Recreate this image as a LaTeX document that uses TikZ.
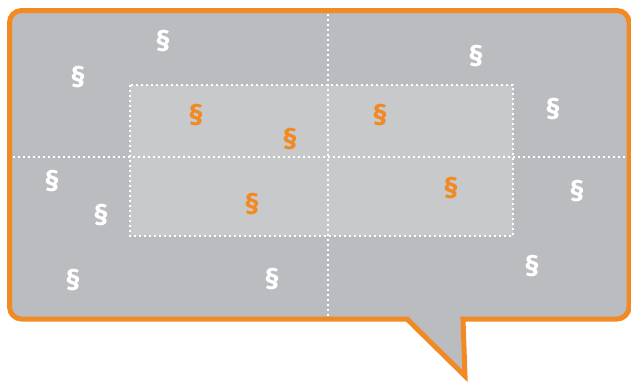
\documentclass[tikz,border=0pt]{standalone}
\usepackage{fontspec}
\setmainfont{Fira Sans}
\begin{document}
\begin{tikzpicture}[x=1pt,y=-1pt,
  sym/.style={font=\bfseries\fontsize{28}{28}\selectfont,inner sep=0pt},
  wsym/.style={sym,text=white},
  osym/.style={sym,text=borange},
  dotline/.style={white,line width=2pt,dash pattern=on 2pt off 3pt}]
\definecolor{borange}{HTML}{F28A24}
\definecolor{bgray}{HTML}{BBBCBF}
\definecolor{igray}{HTML}{C8C9CB}
\useasboundingbox (0,0) rectangle (631,381);
\draw[borange,fill=bgray,line width=5pt,line join=miter,rounded corners=12pt]
  (9.5,160) -- (9.5,10.5) -- (629,10.5) -- (629,319)
  [sharp corners] -- (463,319) -- (465,376) -- (407,319)
  [rounded corners=12pt] -- (9.5,319) -- cycle;
\fill[igray] (130,85) rectangle (513,236);
\draw[dotline] (130,85) rectangle (513,236);
\draw[dotline] (328,14) -- (328,316);
\draw[dotline] (13,157) -- (626,157);
\node[wsym] (w1) at (163,41) {§};
\node[wsym] (w2) at (78,77) {§};
\node[wsym] (w3) at (476,56) {§};
\node[wsym] (w4) at (553,109) {§};
\node[wsym] (w5) at (52,181) {§};
\node[wsym] (w6) at (101,215) {§};
\node[wsym] (w7) at (73,280) {§};
\node[wsym] (w8) at (272,279) {§};
\node[wsym] (w9) at (577,191) {§};
\node[wsym] (w10) at (532,266) {§};
\node[osym] (o1) at (196,115) {§};
\node[osym] (o2) at (290,139) {§};
\node[osym] (o3) at (380,115) {§};
\node[osym] (o4) at (451,188) {§};
\node[osym] (o5) at (252,204) {§};
\end{tikzpicture}
\end{document}
